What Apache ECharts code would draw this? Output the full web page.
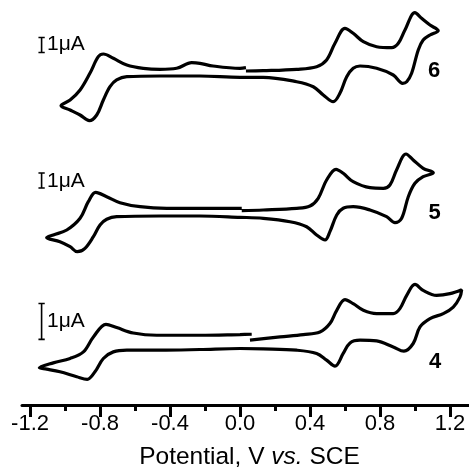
<!DOCTYPE html>
<html>
<head>
<meta charset="utf-8">
<script src="https://cdn.jsdelivr.net/npm/echarts@6/dist/echarts.min.js"></script>
<style>
html,body{margin:0;padding:0;background:#fff;}
#chart{width:469px;height:471px;}
</style>
</head>
<body>
<div id="chart"></div>
<script>
// ---- Data (Potential in V vs. SCE, current in μA), in scan order ----
const potential6 = [0.034,0.133,0.324,0.438,0.495,0.543,0.600,0.647,0.705,0.781,0.867,0.905,0.943,1.000,1.038,1.086,1.133,
  1.086,1.047,1.019,0.981,0.953,0.930,0.876,0.781,0.686,0.647,0.610,0.571,0.533,0.476,0.419,0.324,0.133,0.000,-0.229,-0.457,-0.647,-0.705,-0.743,-0.781,-0.819,-0.861,-0.914,-0.971,-1.023,
  -0.971,-0.914,-0.857,-0.810,-0.781,-0.724,-0.647,-0.553,-0.457,-0.362,-0.276,-0.229,-0.154,0.000,0.034];
const current6 = [0.267,0.287,0.380,0.553,1.000,2.113,3.113,2.780,2.220,1.887,1.820,2.113,3.000,4.153,3.780,3.333,2.953,
  2.667,2.333,1.667,0.113,-0.447,-0.553,0.000,0.447,0.600,0.447,-0.113,-1.220,-1.780,-1.333,-0.780,-0.447,-0.153,-0.153,-0.067,-0.067,-0.113,-0.333,-0.780,-1.667,-2.667,-3.047,-2.667,-2.333,-2.047,
  -1.667,-1.000,0.133,1.220,1.400,1.113,0.667,0.447,0.380,0.447,0.820,0.780,0.600,0.447,0.487];

const potential5 = [0.010,0.133,0.324,0.400,0.447,0.495,0.549,0.590,0.647,0.743,0.819,0.857,0.895,0.949,0.990,1.047,1.105,
  1.047,1.000,0.962,0.924,0.886,0.838,0.743,0.647,0.590,0.553,0.514,0.486,0.438,0.381,0.286,0.133,0.000,-0.229,-0.457,-0.705,-0.762,-0.800,-0.838,-0.886,-0.930,-0.971,-1.029,-1.105,
  -1.067,-0.990,-0.914,-0.867,-0.825,-0.762,-0.686,-0.571,-0.419,-0.229,0.010];
const current5 = [0.287,0.333,0.447,0.600,1.113,2.333,3.047,2.780,2.220,1.820,1.780,2.000,3.000,4.067,3.667,3.113,2.820,
  2.553,2.113,1.220,-0.220,-0.513,-0.113,0.333,0.553,0.447,0.000,-1.113,-1.667,-1.333,-0.780,-0.447,-0.220,-0.153,-0.067,-0.067,-0.113,-0.287,-0.667,-1.447,-2.220,-2.447,-2.113,-1.780,-1.513,
  -1.333,-1.000,-0.220,0.887,1.513,1.220,0.820,0.553,0.447,0.447,0.447];

const potential4 = [0.057,0.229,0.362,0.457,0.514,0.553,0.600,0.647,0.705,0.781,0.876,0.914,0.953,1.000,1.047,1.124,1.200,1.267,
  1.257,1.219,1.162,1.086,1.029,0.990,0.937,0.876,0.781,0.686,0.629,0.590,0.543,0.495,0.438,0.324,0.133,0.000,-0.229,-0.457,-0.647,-0.724,-0.781,-0.829,-0.873,-0.933,-1.029,-1.105,-1.147,
  -1.067,-0.971,-0.895,-0.838,-0.766,-0.705,-0.610,-0.476,-0.229,0.000,0.067];
const current4 = [0.306,0.397,0.464,0.536,0.769,1.139,1.436,1.325,1.139,1.047,1.047,1.186,1.556,1.861,1.694,1.556,1.603,1.714,
  1.508,1.231,1.047,0.908,0.675,0.214,0.000,0.119,0.286,0.306,0.231,-0.064,-0.417,-0.250,-0.064,0.028,0.064,0.075,0.047,0.028,0.028,-0.019,-0.203,-0.575,-0.786,-0.714,-0.575,-0.500,-0.464,
  -0.325,-0.203,-0.019,0.397,0.750,0.658,0.508,0.444,0.444,0.464,0.472];

// Scale bars (1 μA each): [potential, low current, high current]
const scaleBar6 = [-1.134, 1.5, 2.5];
const scaleBar5 = [-1.134, 1.8, 2.8];
const scaleBar4 = [-1.134, 0.33, 1.33];
const scaleBarLabel = '1μA';
const curveLabels = ['6', '5', '4'];

const majorTicks = [-1.2, -0.8, -0.4, 0.0, 0.4, 0.8, 1.2];
const minorTicks = [-1.0, -0.6, -0.2, 0.2, 0.6, 1.0];
const xMin = -1.246, xMax = 1.309;

// ---- Build ----
const FONT = 'Liberation Sans, Arial, Helvetica, sans-serif';
function zipPairs(xs, ys) { return xs.map((x, i) => [x, ys[i]]); }
function barPath(b) {
  const cap = 0.018;
  return [[b[0]-cap, b[1]], [b[0]+cap, b[1]], [b[0], b[1]], [b[0], b[2]], [b[0]-cap, b[2]], [b[0]+cap, b[2]]];
}
function curveSeries(idx, data) {
  return { type: 'line', xAxisIndex: idx, yAxisIndex: idx, data: data, showSymbol: false, smooth: 0.35,
    clip: false, lineStyle: { color: '#000', width: 3.2 }, z: 3, animation: false };
}
function barSeries(idx, data) {
  return { type: 'line', xAxisIndex: idx, yAxisIndex: idx, data: data, showSymbol: false, smooth: false,
    clip: false, lineStyle: { color: '#000', width: 1.6 }, animation: false };
}
const chart = echarts.init(document.getElementById('chart'), null, { renderer: 'canvas' });
const hiddenX = (gi) => ({ type: 'value', gridIndex: gi, min: xMin, max: xMax, show: false });
const option = {
  backgroundColor: '#fff',
  animation: false,
  grid: [
    { left: 22, width: 447, top: 0, height: 150 },
    { left: 22, width: 447, top: 140, height: 150 },
    { left: 22, width: 447, top: 261.5, height: 144 }
  ],
  xAxis: [
    hiddenX(0), hiddenX(1),
    { type: 'value', gridIndex: 2, min: xMin, max: xMax, position: 'bottom',
      splitLine: { show: false },
      axisLine: { show: true, onZero: false, lineStyle: { color: '#000', width: 3 } },
      axisTick: { show: true, customValues: majorTicks, length: 12, lineStyle: { color: '#000', width: 3 } },
      axisLabel: { show: true, customValues: majorTicks, margin: 8, color: '#000', fontSize: 22, fontFamily: FONT,
        formatter: v => v.toFixed(1) },
      name: '{a|Potential, V }{b|vs.}{a| SCE}', nameLocation: 'middle', nameGap: 40,
      nameTextStyle: { color: '#000', fontSize: 24.5, fontFamily: FONT, padding: [0, 0, 0, 8],
        rich: { a: { fontSize: 24.5, fontFamily: FONT, color: '#000' }, b: { fontSize: 24.5, fontFamily: FONT, fontStyle: 'italic', color: '#000' } } } },
    { type: 'value', gridIndex: 2, min: xMin, max: xMax, position: 'bottom', offset: 0,
      splitLine: { show: false }, axisLine: { show: false, onZero: false },
      axisTick: { show: true, customValues: minorTicks, length: 6, lineStyle: { color: '#000', width: 3 } },
      axisLabel: { show: false } }
  ],
  yAxis: [
    { type: 'value', gridIndex: 0, min: -5, max: 5, show: false },
    { type: 'value', gridIndex: 1, min: -5, max: 5, show: false },
    { type: 'value', gridIndex: 2, min: -1.5, max: 2.5, show: false }
  ],
  series: [
    curveSeries(0, zipPairs(potential6, current6)),
    curveSeries(1, zipPairs(potential5, current5)),
    curveSeries(2, zipPairs(potential4, current4)),
    barSeries(0, barPath(scaleBar6)),
    barSeries(1, barPath(scaleBar5)),
    barSeries(2, barPath(scaleBar4))
  ],
  graphic: [
    { type: 'text', x: 47, y: 44, style: { text: scaleBarLabel, fontSize: 21, fontFamily: FONT, fill: '#000', align: 'left', verticalAlign: 'middle' } },
    { type: 'text', x: 47, y: 181, style: { text: scaleBarLabel, fontSize: 21, fontFamily: FONT, fill: '#000', align: 'left', verticalAlign: 'middle' } },
    { type: 'text', x: 47, y: 321, style: { text: scaleBarLabel, fontSize: 21, fontFamily: FONT, fill: '#000', align: 'left', verticalAlign: 'middle' } },
    { type: 'text', x: 434, y: 71, style: { text: curveLabels[0], fontSize: 22, fontWeight: 'bold', fontFamily: FONT, fill: '#000', align: 'center', verticalAlign: 'middle' } },
    { type: 'text', x: 434.5, y: 213, style: { text: curveLabels[1], fontSize: 22, fontWeight: 'bold', fontFamily: FONT, fill: '#000', align: 'center', verticalAlign: 'middle' } },
    { type: 'text', x: 435, y: 361.5, style: { text: curveLabels[2], fontSize: 22, fontWeight: 'bold', fontFamily: FONT, fill: '#000', align: 'center', verticalAlign: 'middle' } }
  ]
};
chart.setOption(option);
</script>
</body>
</html>
